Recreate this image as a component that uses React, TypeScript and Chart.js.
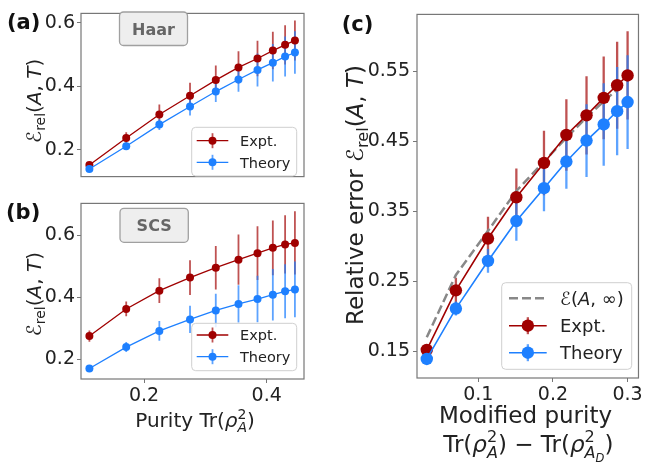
import React, { useEffect, useRef } from "react";
import { Chart, registerables } from "chart.js";
Chart.register(...registerables);

// ---------- data ----------
const purity = [0.111, 0.171, 0.225, 0.275, 0.317, 0.354, 0.385, 0.41, 0.43, 0.446];
const modifiedPurity = [0.031, 0.07, 0.113, 0.151, 0.188, 0.218, 0.245, 0.268, 0.286, 0.3];

const haarExpt = [0.152, 0.237, 0.311, 0.37, 0.419, 0.459, 0.487, 0.512, 0.53, 0.544];
const haarExptErr = [0.008, 0.018, 0.031, 0.041, 0.046, 0.051, 0.056, 0.059, 0.062, 0.063];
const haarTheory = [0.139, 0.211, 0.279, 0.336, 0.383, 0.421, 0.451, 0.474, 0.493, 0.506];
const haarTheoryErr = [0.004, 0.01, 0.017, 0.028, 0.033, 0.039, 0.052, 0.059, 0.063, 0.067];

const scsExpt = [0.2755, 0.363, 0.422, 0.464, 0.496, 0.522, 0.543, 0.56, 0.571, 0.576];
const scsExptErr = [0.018, 0.024, 0.04, 0.056, 0.07, 0.081, 0.087, 0.088, 0.094, 0.102];
const scsTheory = [0.171, 0.24, 0.292, 0.329, 0.358, 0.379, 0.395, 0.409, 0.42, 0.426];
const scsTheoryErr = [0.005, 0.016, 0.032, 0.044, 0.054, 0.06, 0.075, 0.083, 0.087, 0.09];

const asymptote = [0.17, 0.259, 0.322, 0.379, 0.421, 0.455, 0.484, 0.507, 0.524];

const purityTicks = [0.2, 0.4];
const haarYTicks = [0.2, 0.4, 0.6];
const scsYTicks = [0.2, 0.4, 0.6];
const modTicks = [0.1, 0.2, 0.3];
const relYTicks = [0.15, 0.25, 0.35, 0.45, 0.55];

// ---------- style ----------
const FONT = '"DejaVu Sans", "Liberation Sans", sans-serif';
const RED = "#a00000";
const RED_ERR = "rgba(160,0,0,0.68)";
const BLUE = "#1e80ff";
const BLUE_ERR = "rgba(30,128,255,0.72)";
const FRAME = "#777777";
const TXT = "#222222";

type Seg = { t: string; it?: boolean; b?: boolean; s?: number; dy?: number; back?: boolean };

function richLayout(ctx: CanvasRenderingContext2D, segs: Seg[], size: number) {
  let x = 0, ps = 0, pe = 0;
  const out: { t: string; font: string; x: number; dy: number }[] = [];
  for (const g of segs) {
    const fs = size * (g.s ?? 1);
    const font = `${g.it ? "italic " : ""}${g.b ? "bold " : ""}${fs}px ${FONT}`;
    ctx.font = font;
    const w = ctx.measureText(g.t).width;
    const start = g.back ? ps : x;
    out.push({ t: g.t, font, x: start, dy: (g.dy ?? 0) * size });
    if (g.back) x = Math.max(start + w, pe);
    else { ps = start; pe = start + w; x = pe; }
  }
  return { out, width: x };
}

function drawRich(ctx: CanvasRenderingContext2D, segs: Seg[], size: number, ax: number, ay: number,
  opt: { align?: "left" | "center"; rotate?: boolean; color?: string } = {}) {
  ctx.save();
  ctx.translate(ax, ay);
  if (opt.rotate) ctx.rotate(-Math.PI / 2);
  const { out, width } = richLayout(ctx, segs, size);
  const x0 = opt.align === "left" ? 0 : -width / 2;
  ctx.fillStyle = opt.color ?? TXT;
  ctx.textBaseline = "alphabetic";
  ctx.textAlign = "left";
  for (const o of out) { ctx.font = o.font; ctx.fillText(o.t, x0 + o.x, o.dy); }
  ctx.restore();
}

const relLabel: Seg[] = [
  { t: "ℰ" }, { t: "rel", s: 0.7, dy: 0.22 }, { t: "(" }, { t: "A", it: true }, { t: ", " }, { t: "T", it: true }, { t: ")" },
];
const relLabelC: Seg[] = [{ t: "Relative error " }, ...relLabel];
const purityLabel: Seg[] = [
  { t: "Purity Tr(" }, { t: "ρ", it: true }, { t: "2", s: 0.7, dy: -0.42 }, { t: "A", it: true, s: 0.7, dy: 0.25, back: true }, { t: ")" },
];
const modLabel1: Seg[] = [{ t: "Modified purity" }];
const modLabel2: Seg[] = [
  { t: "Tr(" }, { t: "ρ", it: true }, { t: "2", s: 0.7, dy: -0.42 }, { t: "A", it: true, s: 0.7, dy: 0.25, back: true },
  { t: ") − Tr(" }, { t: "ρ", it: true }, { t: "2", s: 0.7, dy: -0.42 }, { t: "A", it: true, s: 0.7, dy: 0.25, back: true },
  { t: "D", it: true, s: 0.5, dy: 0.42 }, { t: ")" },
];
const asymLabel: Seg[] = [{ t: "ℰ(" }, { t: "A", it: true }, { t: ", ∞)" }];

function roundRect(ctx: CanvasRenderingContext2D, x0: number, y0: number, x1: number, y1: number, r: number) {
  ctx.beginPath();
  ctx.moveTo(x0 + r, y0);
  ctx.lineTo(x1 - r, y0); ctx.arcTo(x1, y0, x1, y0 + r, r);
  ctx.lineTo(x1, y1 - r); ctx.arcTo(x1, y1, x1 - r, y1, r);
  ctx.lineTo(x0 + r, y1); ctx.arcTo(x0, y1, x0, y1 - r, r);
  ctx.lineTo(x0, y0 + r); ctx.arcTo(x0, y0, x0 + r, y0, r);
  ctx.closePath();
}

type LegItem = { kind: "err" | "dash"; color?: string; errColor?: string; label: Seg[]; y: number };
type Leg = { box: [number, number, number, number]; hx0: number; hx1: number; tx: number; fs: number; r: number; eh: number; lw: number; ew: number; items: LegItem[] };

function drawLegend(ctx: CanvasRenderingContext2D, L: Leg) {
  ctx.save();
  roundRect(ctx, L.box[0], L.box[1], L.box[2], L.box[3], 4);
  ctx.fillStyle = "rgba(255,255,255,0.85)";
  ctx.fill();
  ctx.strokeStyle = "#cfcfcf";
  ctx.lineWidth = 1;
  ctx.stroke();
  const hm = (L.hx0 + L.hx1) / 2;
  for (const it of L.items) {
    if (it.kind === "dash") {
      ctx.setLineDash([9, 4]);
      ctx.strokeStyle = "#888888";
      ctx.lineWidth = 2.5;
      ctx.beginPath(); ctx.moveTo(L.hx0, it.y); ctx.lineTo(L.hx1, it.y); ctx.stroke();
      ctx.setLineDash([]);
    } else {
      ctx.strokeStyle = it.errColor!;
      ctx.lineWidth = L.ew;
      ctx.beginPath(); ctx.moveTo(hm, it.y - L.eh); ctx.lineTo(hm, it.y + L.eh); ctx.stroke();
      ctx.strokeStyle = it.color!;
      ctx.lineWidth = L.lw;
      ctx.beginPath(); ctx.moveTo(L.hx0, it.y); ctx.lineTo(L.hx1, it.y); ctx.stroke();
      ctx.fillStyle = it.color!;
      ctx.beginPath(); ctx.arc(hm, it.y, L.r, 0, Math.PI * 2); ctx.fill();
    }
    drawRich(ctx, it.label, L.fs, L.tx, it.y + 0.36 * L.fs, { align: "left" });
  }
  ctx.restore();
}

function drawTag(ctx: CanvasRenderingContext2D, text: string, x0: number, y0: number, x1: number, y1: number) {
  ctx.save();
  roundRect(ctx, x0, y0, x1, y1, 4);
  ctx.fillStyle = "#eeeeee";
  ctx.fill();
  ctx.strokeStyle = "#a0a0a0";
  ctx.lineWidth = 1.3;
  ctx.stroke();
  ctx.font = `bold 16px ${FONT}`;
  ctx.fillStyle = "#666666";
  ctx.textAlign = "center";
  ctx.textBaseline = "alphabetic";
  ctx.fillText(text, (x0 + x1) / 2, (y0 + y1) / 2 + 6);
  ctx.restore();
}

function drawPanelLabel(ctx: CanvasRenderingContext2D, text: string, x: number, y: number) {
  ctx.save();
  ctx.font = `bold 21px ${FONT}`;
  ctx.fillStyle = "#111111";
  ctx.textAlign = "left";
  ctx.textBaseline = "alphabetic";
  ctx.fillText(text, x, y);
  ctx.restore();
}

function drawErrors(chart: any) {
  const ctx: CanvasRenderingContext2D = chart.ctx;
  const xs = chart.scales.x, ys = chart.scales.y, a = chart.chartArea;
  ctx.save();
  ctx.beginPath(); ctx.rect(a.left, a.top, a.right - a.left, a.bottom - a.top); ctx.clip();
  chart.data.datasets.forEach((ds: any) => {
    if (!ds.errors) return;
    ctx.strokeStyle = ds.errColor;
    ctx.lineWidth = ds.errWidth;
    ds.data.forEach((p: any, j: number) => {
      const e = ds.errors[j];
      const px = xs.getPixelForValue(p.x);
      ctx.beginPath();
      ctx.moveTo(px, ys.getPixelForValue(p.y - e));
      ctx.lineTo(px, ys.getPixelForValue(p.y + e));
      ctx.stroke();
    });
  });
  ctx.restore();
}

function axis(horizontal: boolean, min: number, max: number, ticks: number[], digits: number, fit: number, show: boolean, pad: number) {
  return {
    type: "linear",
    min, max,
    afterBuildTicks: (s: any) => { s.ticks = ticks.map((v) => ({ value: v })); },
    afterFit: (s: any) => { if (horizontal) s.height = fit; else s.width = fit; },
    grid: { display: true, drawOnChartArea: false, drawTicks: show, tickLength: 4, color: FRAME, lineWidth: 1 },
    border: { display: false },
    ticks: {
      display: show, font: { family: FONT, size: 19 }, color: TXT, padding: pad,
      autoSkip: false, maxRotation: 0, minRotation: 0,
      callback: (v: any) => Number(v).toFixed(digits),
    },
  };
}

function pts(xs: number[], ys: number[]) {
  return ys.map((y, i) => ({ x: xs[i], y }));
}

function series(label: string, xs: number[], ys: number[], errs: number[], color: string, errColor: string, r: number, lw: number, ew: number, order: number) {
  return {
    label, data: pts(xs, ys), errors: errs, errColor, errWidth: ew,
    borderColor: color, backgroundColor: color, borderWidth: lw,
    pointRadius: r, pointHoverRadius: r, pointBorderWidth: 0, pointBackgroundColor: color,
    tension: 0, fill: false, order, clip: false,
  };
}

function makeChart(canvas: HTMLCanvasElement, datasets: any[], scales: any, padding: any, extra: (ctx: CanvasRenderingContext2D, chart: any) => void) {
  return new Chart(canvas, {
    type: "line",
    data: { datasets },
    options: {
      animation: false, responsive: false, devicePixelRatio: 1, events: [],
      layout: { padding },
      scales,
      plugins: { legend: { display: false }, tooltip: { enabled: false } },
    } as any,
    plugins: [{
      id: "deco",
      beforeDatasetsDraw(chart: any) { drawErrors(chart); },
      afterDraw(chart: any) {
        const ctx = chart.ctx, a = chart.chartArea;
        ctx.save();
        ctx.strokeStyle = FRAME; ctx.lineWidth = 1.2;
        ctx.strokeRect(a.left, a.top, a.right - a.left, a.bottom - a.top);
        ctx.restore();
        extra(ctx, chart);
      },
    }],
  } as any);
}

export default function App() {
  const refA = useRef<HTMLCanvasElement>(null);
  const refB = useRef<HTMLCanvasElement>(null);
  const refC = useRef<HTMLCanvasElement>(null);

  useEffect(() => {
    const charts: Chart[] = [];
    // Panel (a)
    charts.push(makeChart(refA.current!, [
      series("Expt.", purity, haarExpt, haarExptErr, RED, RED_ERR, 4, 1.3, 1.8, 1),
      series("Theory", purity, haarTheory, haarTheoryErr, BLUE, BLUE_ERR, 4, 1.3, 1.8, 0),
    ], {
      x: axis(true, 0.0973, 0.4608, purityTicks, 1, 0, false, 2),
      y: axis(false, 0.1153, 0.629, haarYTicks, 1, 81, true, 2),
    }, { left: 0, right: 26, top: 7, bottom: 7 }, (ctx) => {
      drawRich(ctx, relLabel, 20, 41, 100.8, { rotate: true });
      drawPanelLabel(ctx, "(a)", 7, 29);
      drawTag(ctx, "Haar", 119.5, 12, 187.5, 45.5);
      drawLegend(ctx, {
        box: [191.7, 127.3, 296.7, 176], hx0: 196.7, hx1: 228.3, tx: 240, fs: 14.5, r: 4, eh: 7.5, lw: 1.3, ew: 1.8,
        items: [
          { kind: "err", color: RED, errColor: RED_ERR, label: [{ t: "Expt." }], y: 140.7 },
          { kind: "err", color: BLUE, errColor: BLUE_ERR, label: [{ t: "Theory" }], y: 162.3 },
        ],
      });
    }));
    // Panel (b)
    charts.push(makeChart(refB.current!, [
      series("Expt.", purity, scsExpt, scsExptErr, RED, RED_ERR, 4, 1.3, 1.8, 1),
      series("Theory", purity, scsTheory, scsTheoryErr, BLUE, BLUE_ERR, 4, 1.3, 1.8, 0),
    ], {
      x: axis(true, 0.0973, 0.4608, purityTicks, 1, 87, true, 2),
      y: axis(false, 0.137, 0.7034, scsYTicks, 1, 81, true, 2),
    }, { left: 0, right: 26, top: 12, bottom: 0 }, (ctx) => {
      drawRich(ctx, relLabel, 20, 41, 104.2, { rotate: true });
      drawRich(ctx, purityLabel, 20, 195, 237, {});
      drawPanelLabel(ctx, "(b)", 6, 29);
      drawTag(ctx, "SCS", 120, 18.3, 188.3, 52.3);
      drawLegend(ctx, {
        box: [191.7, 133.3, 296.7, 180.7], hx0: 196.7, hx1: 228.3, tx: 240, fs: 14.5, r: 4, eh: 7.5, lw: 1.3, ew: 1.8,
        items: [
          { kind: "err", color: RED, errColor: RED_ERR, label: [{ t: "Expt." }], y: 145 },
          { kind: "err", color: BLUE, errColor: BLUE_ERR, label: [{ t: "Theory" }], y: 166.7 },
        ],
      });
    }));
    // Panel (c)
    charts.push(makeChart(refC.current!, [
      {
        label: "asymptote", data: pts(modifiedPurity, asymptote), borderColor: "#888888", borderWidth: 2.5,
        borderDash: [9, 4], pointRadius: 0, tension: 0, fill: false, order: 2,
      },
      series("Expt.", modifiedPurity, haarExpt, haarExptErr, RED, RED_ERR, 6.2, 1.6, 2.3, 1),
      series("Theory", modifiedPurity, haarTheory, haarTheoryErr, BLUE, BLUE_ERR, 6.2, 1.6, 2.3, 0),
    ], {
      x: axis(true, 0.0179, 0.3146, modTicks, 1, 88, true, 2),
      y: axis(false, 0.1118, 0.6312, relYTicks, 2, 87, true, 3),
    }, { left: 0, right: 4, top: 7, bottom: 0 }, (ctx) => {
      drawRich(ctx, relLabelC, 23, 33, 195, { rotate: true });
      drawRich(ctx, modLabel1, 23, 195.5, 422.5, {});
      drawRich(ctx, modLabel2, 23, 198.3, 452, {});
      drawPanelLabel(ctx, "(c)", 11.7, 30.5);
      drawLegend(ctx, {
        box: [171.7, 282.7, 301.7, 369.3], hx0: 179, hx1: 216.7, tx: 230, fs: 18, r: 6.2, eh: 8.5, lw: 1.6, ew: 2.3,
        items: [
          { kind: "dash", label: asymLabel, y: 298.3 },
          { kind: "err", color: RED, errColor: RED_ERR, label: [{ t: "Expt." }], y: 325.7 },
          { kind: "err", color: BLUE, errColor: BLUE_ERR, label: [{ t: "Theory" }], y: 352.7 },
        ],
      });
    }));
    return () => charts.forEach((c) => c.destroy());
  }, []);

  return (
    <div style={{ position: "absolute", left: 0, top: 0, width: 645, height: 466, background: "#ffffff" }}>
      <canvas ref={refA} width={330} height={190} style={{ position: "absolute", left: 0, top: 0, width: 330, height: 190 }} />
      <canvas ref={refB} width={330} height={276} style={{ position: "absolute", left: 0, top: 190, width: 330, height: 276 }} />
      <canvas ref={refC} width={315} height={466} style={{ position: "absolute", left: 330, top: 0, width: 315, height: 466 }} />
    </div>
  );
}
